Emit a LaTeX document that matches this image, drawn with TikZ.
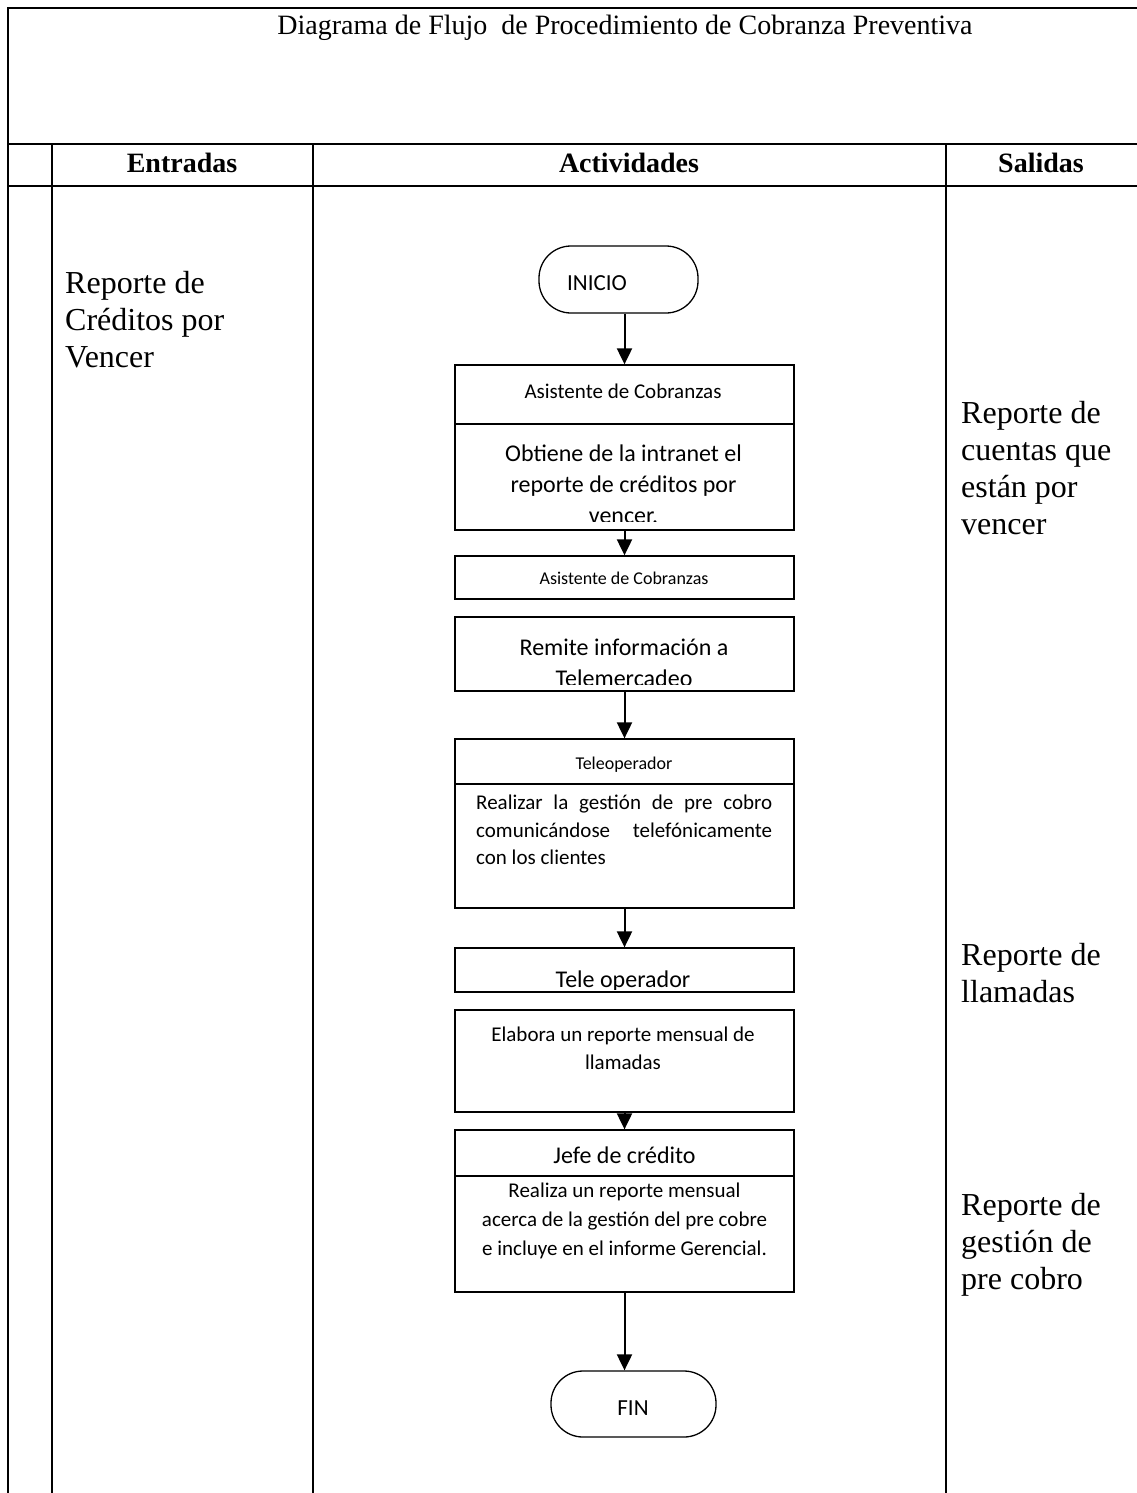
\documentclass[tikz,border=0pt]{standalone}
\usepackage{fontspec}
\setmainfont{Liberation Serif}
\newfontfamily\calib{Carlito}
\usetikzlibrary{arrows.meta}
\newcommand\ml[2]{\begin{tabular}[t]{@{}#1@{}}#2\end{tabular}}
\newcommand\fs[2]{\fontsize{#1}{#2}\selectfont}
\begin{document}
\begin{tikzpicture}[x=1pt,y=-1pt,
 grid/.style={line width=2pt,line cap=rect},
 box/.style={draw,line width=1.3pt,rectangle,inner sep=0pt,minimum width=339pt},
 divider/.style={line width=1.3pt},
 term/.style={draw,line width=1.3pt,rounded corners=32pt,inner sep=0pt},
 flow/.style={line width=2pt,-{Triangle[width=15pt,length=16pt]}},
 txt/.style={inner sep=0pt,anchor=base},
 side/.style={inner sep=0pt,anchor=base west,font=\fs{32}{37}},
 hdr/.style={inner sep=0pt,anchor=base,font=\bfseries\fs{28}{32}},
 fbig/.style={font=\calib\fs{24}{31}},
 fmid/.style={font=\calib\fs{21}{28}},
 fsmall/.style={font=\calib\fs{18}{22}},
]
\useasboundingbox (0,0) rectangle (1137,1493);
% table grid
\draw[grid] (8,1493) -- (8,8) -- (1137,8);
\draw[grid] (8,144) -- (1137,144);
\draw[grid] (8,186) -- (1137,186);
\draw[grid] (52,144) -- (52,1493);
\draw[grid] (313,144) -- (313,1493);
\draw[grid] (946,144) -- (946,1493);
% title and headers
\node[txt,font=\fs{28}{32}] (title) at (625,35) {Diagrama de Flujo \ de Procedimiento de Cobranza Preventiva};
\node[hdr] (h1) at (182,172) {Entradas};
\node[hdr] (h2) at (629,172) {Actividades};
\node[hdr] (h3) at (1041,172) {Salidas};
% side texts
\node[side] (in1) at (65,293) {\ml{l}{Reporte de\\Créditos por\\Vencer}};
\node[side] (out1) at (961,423) {\ml{l}{Reporte de\\cuentas que\\están por\\vencer}};
\node[side] (out2) at (961,965) {\ml{l}{Reporte de\\llamadas}};
\node[side] (out3) at (961,1215) {\ml{l}{Reporte de\\gestión de\\pre cobro}};
% flowchart
\node[term,minimum width=159pt,minimum height=67pt] (ini) at (618.5,279.5) {};
\node[txt,font=\calib\fs{23}{28}] (tini) at (597,290) {INICIO};

\node[box,minimum height=165pt] (b1) at (624.5,447.5) {};
\draw[divider] (b1.west |- 0,424) -- (b1.east |- 0,424);
\begin{scope}
\clip (455,365) rectangle (794,521);
\node[txt,font=\calib\fs{21}{26}] (b1h) at (623,398) {Asistente de Cobranzas};
\node[txt,fbig,anchor=base] (b1t) at (623.5,461) {\ml{c}{Obtiene de la intranet el\\reporte de créditos por\\vencer.}};
\end{scope}

\node[box,minimum height=43pt] (b2) at (624.5,577.5) {};
\node[txt,fsmall] (b2t) at (624,584) {Asistente de Cobranzas};

\node[box,minimum height=74pt] (b3) at (624.5,654) {};
\begin{scope}
\clip (455,617) rectangle (794,684);
\node[txt,fbig,anchor=base] (b3t) at (624,655) {\ml{c}{Remite información a\\Telemercadeo}};
\end{scope}

\node[box,minimum height=169pt] (b4) at (624.5,823.5) {};
\draw[divider] (b4.west |- 0,784) -- (b4.east |- 0,784);
\node[txt,fsmall] (b4h) at (624,769) {Teleoperador};
\node[inner sep=0pt,anchor=north west] (b4t) at (476,795) {\parbox[t]{296pt}{\calib\fs{21}{27.5}\hyphenpenalty=10000\parindent=0pt
Realizar la gestión de pre cobro\linebreak comunicándose\hfill telefónicamente\linebreak con los clientes}};

\node[box,minimum height=44pt] (b5) at (624.5,970) {};
\begin{scope}
\clip (455,948) rectangle (794,989);
\node[txt,fbig] (b5t) at (623,987) {Tele operador};
\end{scope}

\node[box,minimum height=102pt] (b6) at (624.5,1061) {};
\node[txt,fmid,anchor=base] (b6t) at (623,1041) {\ml{c}{Elabora un reporte mensual de\\llamadas}};

\node[box,minimum height=162pt] (b7) at (624.5,1211) {};
\draw[divider] (b7.west |- 0,1176) -- (b7.east |- 0,1176);
\node[txt,fbig] (b7h) at (624.5,1163) {Jefe de crédito};
\node[txt,font=\calib\fs{21}{29},anchor=base] (b7t) at (624.5,1197) {\ml{c}{Realiza un reporte mensual\\acerca de la gestión del pre cobre\\e incluye en el informe Gerencial.}};

\node[term,minimum width=165pt,minimum height=66pt] (fin) at (633.5,1404) {};
\node[txt,font=\calib\fs{23}{28}] (tfin) at (633,1415) {FIN};

% connectors
\draw[flow] (ini.south -| b1.north) -- (b1.north);
\draw[flow] (b1.south) -- (b2.north);
\draw[flow] (b3.south) -- (b4.north);
\draw[flow] (b4.south) -- (b5.north);
\draw[flow] (b6.south) -- (b7.north);
\draw[flow] (b7.south) -- (b7.south |- fin.north);
\end{tikzpicture}
\end{document}
